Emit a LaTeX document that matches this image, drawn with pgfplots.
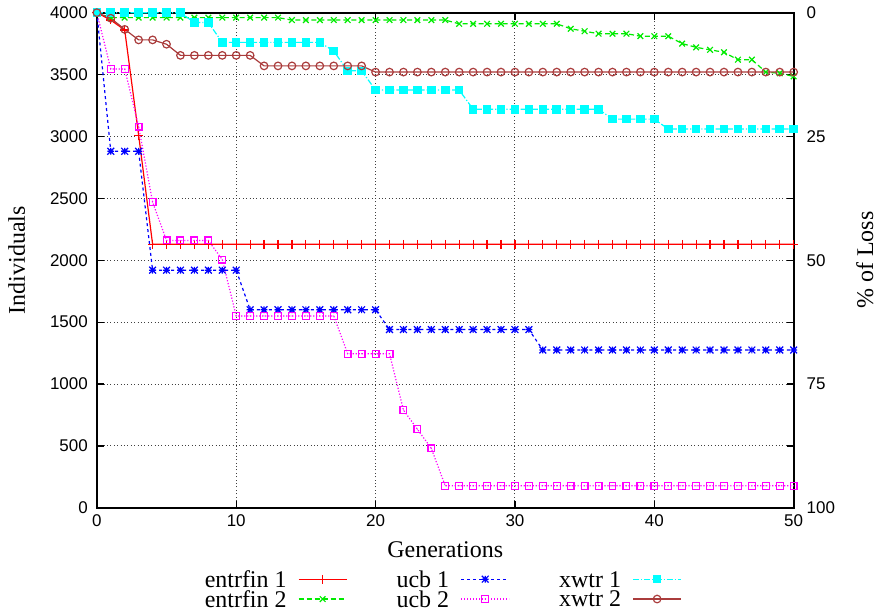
\documentclass[border=0pt]{standalone}
\usepackage{fontspec}
\setmainfont{Liberation Serif}
\setsansfont{Liberation Sans}
\usepackage{pgfplots}
\usepackage{pgfplotstable}
\pgfplotsset{compat=1.18}

\definecolor{gpred}{rgb}{1,0,0}
\definecolor{gpgreen}{rgb}{0,1,0}
\definecolor{gpblue}{rgb}{0,0,1}
\definecolor{gpmag}{rgb}{1,0,1}
\definecolor{gpcyan}{rgb}{0,1,1}
\definecolor{gpbrown}{RGB}{170,60,60}

\pgfdeclareplotmark{plusx}{%
  \pgfpathmoveto{\pgfqpoint{-\pgfplotmarksize}{0pt}}\pgfpathlineto{\pgfqpoint{\pgfplotmarksize}{0pt}}%
  \pgfpathmoveto{\pgfqpoint{0pt}{-\pgfplotmarksize}}\pgfpathlineto{\pgfqpoint{0pt}{\pgfplotmarksize}}%
  \pgfpathmoveto{\pgfqpoint{-\pgfplotmarksize}{-\pgfplotmarksize}}\pgfpathlineto{\pgfqpoint{\pgfplotmarksize}{\pgfplotmarksize}}%
  \pgfpathmoveto{\pgfqpoint{-\pgfplotmarksize}{\pgfplotmarksize}}\pgfpathlineto{\pgfqpoint{\pgfplotmarksize}{-\pgfplotmarksize}}%
  \pgfusepathqstroke}
\pgfdeclareplotmark{sqdot}{%
  \pgfpathrectangle{\pgfqpoint{-\pgfplotmarksize}{-\pgfplotmarksize}}{\pgfqpoint{2\pgfplotmarksize}{2\pgfplotmarksize}}%
  \pgfusepathqstroke
  \pgfpathcircle{\pgfpointorigin}{0.3pt}\pgfusepathqfill}

\pgfplotstableread{
g ef1 ef2 u1 u2 x1 x2
0 4000 4000 4000 4000 4000 4000
1 3940 3960 2880 3545 4000 3955
2 3860 3960 2880 3545 4000 3865
3 3010 3960 2880 3080 4000 3780
4 2130 3960 1920 2470 4000 3780
5 2130 3960 1920 2160 4000 3745
6 2130 3960 1920 2160 4000 3655
7 2130 3960 1920 2160 3920 3655
8 2130 3960 1920 2160 3920 3655
9 2130 3960 1920 2005 3760 3655
10 2130 3960 1920 1550 3760 3655
11 2130 3960 1600 1550 3760 3655
12 2130 3960 1600 1550 3760 3570
13 2130 3960 1600 1550 3760 3570
14 2130 3940 1600 1550 3760 3570
15 2130 3940 1600 1550 3760 3570
16 2130 3940 1600 1550 3760 3570
17 2130 3940 1600 1550 3690 3570
18 2130 3940 1600 1245 3530 3570
19 2130 3940 1600 1245 3530 3570
20 2130 3940 1600 1245 3375 3520
21 2130 3940 1440 1245 3375 3520
22 2130 3940 1440 790 3375 3520
23 2130 3940 1440 635 3375 3520
24 2130 3940 1440 480 3375 3520
25 2130 3940 1440 178 3375 3520
26 2130 3910 1440 178 3375 3520
27 2130 3910 1440 178 3220 3520
28 2130 3910 1440 178 3220 3520
29 2130 3910 1440 178 3220 3520
30 2130 3910 1440 178 3220 3520
31 2130 3910 1440 178 3220 3520
32 2130 3910 1275 178 3220 3520
33 2130 3910 1275 178 3220 3520
34 2130 3870 1275 178 3220 3520
35 2130 3850 1275 178 3220 3520
36 2130 3830 1275 178 3220 3520
37 2130 3830 1275 178 3140 3520
38 2130 3830 1275 178 3140 3520
39 2130 3810 1275 178 3140 3520
40 2130 3810 1275 178 3140 3520
41 2130 3810 1275 178 3060 3520
42 2130 3750 1275 178 3060 3520
43 2130 3720 1275 178 3060 3520
44 2130 3700 1275 178 3060 3520
45 2130 3680 1275 178 3060 3520
46 2130 3620 1275 178 3060 3520
47 2130 3620 1275 178 3060 3520
48 2130 3520 1275 178 3060 3520
49 2130 3510 1275 178 3060 3520
50 2130 3485 1275 178 3060 3520
}\data

\begin{document}
\begin{tikzpicture}
\begin{axis}[
  name=main,
  scale only axis,
  width=349pt, height=248pt,
  xmin=0, xmax=50, ymin=0, ymax=4000,
  xtick={0,10,20,30,40,50},
  ytick={0,500,1000,1500,2000,2500,3000,3500,4000},
  tick align=inside,
  major tick length=3.5pt,
  tick style={black, line width=0.6pt},
  axis line style={line width=0.9pt},
  grid=major,
  major grid style={black!75, line width=0.5pt, dash pattern=on 0.5pt off 1.2pt},
  scaled y ticks=false,
  /pgf/number format/assume math mode=true,
  /pgf/number format/set thousands separator={},
  tick label style={font=\fontsize{8.5}{10}\sffamily},
  yticklabel style={xshift=-1pt},
  label style={font=\fontsize{12}{14}\selectfont},
  xlabel={Generations},
  ylabel={Individuals},
  xlabel style={at={(axis description cs:0.5,0)}, anchor=center, yshift=-21pt},
  ylabel style={at={(axis description cs:-0.115,0.5)}, anchor=center, rotate=0},
  legend columns=2,
  transpose legend,
  legend plot pos=right,
  legend image code/.code={%
    \draw[mark repeat=2,mark phase=2,#1] plot coordinates {(0pt,0pt) (12pt,0pt) (24pt,0pt)};},
  legend style={at={(0.496,-0.124)}, anchor=north, draw=none, fill=none,
    inner sep=0pt, outer sep=0pt,
    font=\fontsize{12}{12}\selectfont,
    nodes={inner sep=0.75pt, text depth=0pt},
    row sep=0pt,
    /tikz/every odd column/.append style={column sep=5pt},
    /tikz/every even column/.append style={column sep=24pt}},
]
\addplot[gpred, line width=0.6pt, mark=+, mark size=2.2pt, mark options={solid}] table[x=g,y=ef1]{\data};
\addlegendentry{entrfin 1}
\addplot[gpgreen!92!black, line width=0.6pt, dash pattern=on 2.5pt off 1.5pt, mark=x, mark size=2pt, mark options={solid}] table[x=g,y=ef2]{\data};
\addlegendentry{entrfin 2}
\addplot[gpblue, line width=0.6pt, dash pattern=on 1.5pt off 1.5pt, mark=plusx, mark size=1.7pt, mark options={solid}] table[x=g,y=u1]{\data};
\addlegendentry{ucb 1}
\addplot[gpmag, line width=0.6pt, dash pattern=on 0.6pt off 0.9pt, mark=sqdot, mark size=1.7pt, mark options={solid}] table[x=g,y=u2]{\data};
\addlegendentry{ucb 2}
\addplot[gpcyan, line width=0.6pt, dash pattern=on 3pt off 1pt on 0.6pt off 1pt, mark=square*, mark size=1.85pt, mark options={solid}] table[x=g,y=x1]{\data};
\addlegendentry{xwtr 1}
\addplot[gpbrown, line width=0.6pt, mark=o, mark size=1.9pt, mark options={solid}] table[x=g,y=x2]{\data};
\addlegendentry{xwtr 2}
\end{axis}
\begin{axis}[
  scale only axis,
  width=349pt, height=248pt,
  xmin=0, xmax=50, ymin=0, ymax=100,
  y dir=reverse,
  hide x axis,
  axis y line*=right,
  axis line style={draw=none},
  ytick={0,25,50,75,100},
  major tick length=0pt,
  /pgf/number format/assume math mode=true,
  tick label style={font=\fontsize{8.5}{10}\sffamily},
  yticklabel style={xshift=3pt},
  ylabel={\% of Loss},
  ylabel style={font=\fontsize{12}{14}\selectfont, at={(axis description cs:1.102,0.5)}, anchor=center, rotate=0},
]
\end{axis}
\path ([xshift=-48.5pt,yshift=-51.5pt]main.south west) rectangle ([xshift=42.5pt,yshift=6pt]main.north east);
\end{tikzpicture}
\end{document}
